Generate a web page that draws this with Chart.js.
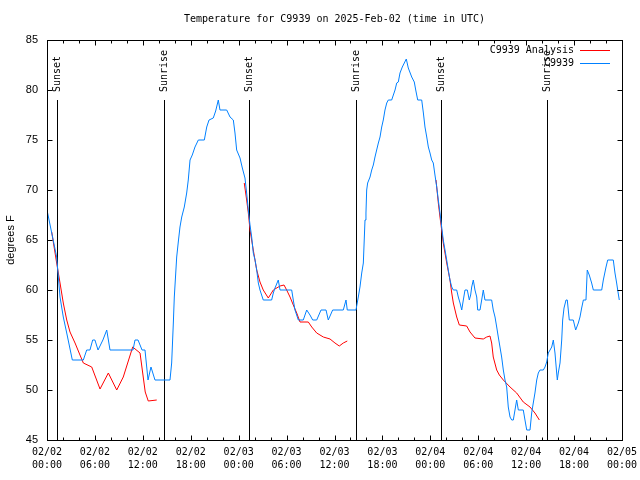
<!DOCTYPE html>
<html>
<head>
<meta charset="utf-8">
<script src="https://cdn.jsdelivr.net/npm/chart.js@4.4.1/dist/chart.umd.min.js"></script>
<style>
  html, body { margin: 0; padding: 0; background: #fff; }
  canvas { display: block; }
</style>
</head>
<body>
<canvas id="tempChart" width="640" height="480"></canvas>
<script>
// hours since 2025-02-02 00:00 UTC
const obsHours = [0, 1.21, 1.63, 2.04, 2.47, 3.17, 4.55, 4.97, 5.38, 5.72, 6.0, 6.39, 7.0, 7.48, 7.89, 10.77, 11.02, 11.4, 11.9, 12.27,
    12.65, 13.02, 13.52, 15.4, 15.61, 15.82, 15.94, 16.12, 16.24, 16.44, 16.65, 16.87, 17.19, 17.49, 17.69, 17.91, 18.19, 18.53, 18.95, 19.7,
    20.0, 20.29, 20.82, 21.12, 21.45, 21.66, 22.5, 22.92, 23.33, 23.54, 23.75, 24.17, 24.46, 24.79, 25.0, 25.21, 25.42, 25.63, 25.83, 26.05,
    26.26, 26.46, 26.67, 27.08, 28.13, 28.34, 28.55, 28.96, 29.18, 30.64, 30.84, 31.05, 31.47, 32.09, 32.52, 32.93, 33.27, 33.77, 34.31, 34.94,
    35.22, 35.77, 37.1, 37.44, 37.6, 38.69, 38.98, 39.19, 39.41, 39.61, 39.82, 39.94, 40.03, 40.15, 40.45, 40.66, 40.86, 41.07, 41.28, 41.49,
    41.7, 41.91, 42.11, 42.32, 42.54, 42.74, 43.16, 43.37, 43.58, 43.79, 43.99, 44.2, 44.49, 44.74, 44.99, 45.24, 45.67, 45.99, 46.17, 46.42,
    46.92, 47.13, 47.33, 47.55, 47.75, 47.96, 48.17, 48.37, 48.58, 48.8, 49.0, 49.21, 49.42, 49.62, 49.84, 50.05, 50.25, 50.46, 50.68, 50.88,
    51.3, 51.5, 51.72, 51.93, 52.13, 52.34, 52.63, 52.88, 53.05, 53.18, 53.38, 53.59, 53.81, 53.93, 54.22, 54.43, 54.63, 54.84, 55.68, 55.88,
    56.1, 56.31, 56.51, 56.72, 56.93, 57.14, 57.35, 57.56, 57.76, 57.98, 58.19, 58.39, 58.6, 58.81, 59.02, 59.64, 59.85, 60.07, 60.48, 60.69,
    60.89, 61.1, 61.32, 61.52, 61.73, 62.15, 62.36, 62.57, 62.77, 62.99, 63.2, 63.4, 63.61, 63.82, 63.9, 64.02, 64.24, 64.45, 64.57, 64.74,
    64.99, 65.15, 65.4, 65.9, 66.2, 66.53, 66.74, 66.95, 67.16, 67.49, 67.65, 67.9, 68.2, 68.41, 69.46, 69.66, 70.0, 70.21, 70.91, 71.12,
    71.33, 71.46, 71.66];
const obsTemps = [68, 63.3, 59.3, 57.3, 55.7, 53, 53, 54, 54, 55, 55, 54, 55, 56, 54, 54, 55, 55, 54, 54,
    51, 52.3, 51, 51, 52.7, 56.7, 59.3, 61.7, 63.3, 64.8, 66.3, 67.3, 68.3, 69.7, 71, 73, 73.5, 74.3, 75, 75,
    76.3, 77, 77.2, 77.9, 79, 78, 78, 77.3, 77, 75.7, 74, 73.2, 72.2, 71.2, 69.7, 68, 66.5, 65.3, 63.7, 63,
    62, 60.7, 60, 59, 59, 59.7, 60.2, 61, 60, 60, 59, 58, 57, 57, 58, 57.5, 57, 57, 58, 58,
    57, 58, 58, 59, 58, 58, 59.3, 60.3, 61.7, 62.7, 67, 67.7, 70, 70.7, 71.3, 72, 72.5, 73.3, 74, 74.7,
    75.3, 76.3, 77, 78, 78.7, 79, 79, 79.5, 80, 80.7, 80.8, 81.7, 82.3, 82.7, 83.1, 82.2, 81.3, 80.8, 80, 79,
    79, 77.7, 76.3, 75.3, 74.3, 73.7, 73, 72.7, 71.5, 70.3, 69, 67.7, 66.3, 65, 64, 63, 62, 61, 60.3, 60,
    60, 59.3, 58.7, 58, 59, 60, 60, 59, 59.5, 60.3, 61, 60, 59.3, 58, 58, 59, 60, 59, 59, 58,
    57.3, 56.3, 55.3, 54.3, 53.3, 52, 51, 50.3, 48.3, 47.3, 47, 47, 48, 49, 48, 48, 47, 46, 46, 47.7,
    48.7, 49.7, 51, 51.7, 52, 52, 52.3, 52.8, 53.7, 54, 54.3, 55, 53.7, 51.7, 51, 51.7, 52.7, 55, 57, 58.2,
    59, 59, 57, 57, 56, 56.7, 57.3, 58.2, 59, 59, 62, 61.5, 60.7, 60, 60, 61, 62.3, 63, 63, 61.7,
    60.7, 60, 59];

const anaHours = [0.59, 1.21, 1.63, 2.04, 2.47, 2.88, 3.51, 4.13, 4.55, 5.6, 6.64, 7.68, 8.73, 9.55, 10.73, 11.65, 12.3, 12.68, 13.74,
    19,
    24.7, 25.0, 25.21, 25.42, 25.83, 26.26, 26.67, 27.08, 27.71, 28.34, 29.18, 29.68, 30.01, 30.43, 30.84, 31.27, 31.68, 32.72, 33.15, 33.77,
    34.6, 35.44, 36.06, 36.6, 37.1, 37.6,
    43,
    48.71, 49.0, 49.21, 49.42, 49.62, 50.05, 50.46, 50.68, 50.88, 51.09, 51.3, 51.63, 52.55, 52.97, 53.59, 54.63, 55.06, 55.47, 55.68, 55.88,
    56.31, 56.64, 57.14, 57.98, 58.81, 59.64, 60.48, 61.1, 61.65];
const anaTemps = [65.8, 62.7, 60.7, 58.7, 57, 55.8, 54.7, 53.5, 52.7, 52.3, 50.1, 51.7, 50, 51.3, 54.3, 53.7, 49.8, 48.9, 49,
    null,
    70.7, 69, 67.7, 66, 64, 62, 60.8, 60, 59.2, 60, 60.4, 60.5, 60, 59.3, 58.5, 57.7, 56.8, 56.8, 56.3, 55.7,
    55.3, 55.1, 54.7, 54.4, 54.7, 54.9,
    null,
    71, 68.7, 67.3, 66, 64.7, 62.7, 61, 59.7, 58.7, 58, 57.3, 56.5, 56.4, 55.8, 55.2, 55.1, 55.3, 55.4, 54.7, 53.3,
    52, 51.5, 51, 50.3, 49.7, 48.8, 48.3, 47.7, 47];

const sunHours = [1.2, 14.69, 25.25, 38.65, 49.3, 62.6];
const sunLabels = ['Sunset', 'Sunrise', 'Sunset', 'Sunrise', 'Sunset', 'Sunrise'];

const dayLabels = ['02/02', '02/03', '02/04', '02/05'];
const yTicks = [45, 50, 55, 60, 65, 70, 75, 80, 85];

const monoFont = "'DejaVu Sans Mono', monospace";
const sansFont = "'Liberation Sans', Arial, sans-serif";

function toPoints(xs, ys) {
    var pts = [];
    for (var i = 0; i < xs.length; i++) {
        pts.push({ x: xs[i], y: ys[i] });
    }
    return pts;
}

function pad2(n) {
    return (n < 10 ? '0' : '') + n;
}

const gnuplotLook = {
    id: 'gnuplotLook',
    beforeDatasetsDraw(chart) {
        const ctx = chart.ctx;
        const area = chart.chartArea;
        const xs = chart.scales.x;
        ctx.save();
        ctx.strokeStyle = '#000';
        ctx.lineWidth = 1;
        ctx.fillStyle = '#000';
        ctx.font = '10px ' + monoFont;
        for (var i = 0; i < sunHours.length; i++) {
            const px = Math.round(xs.getPixelForValue(sunHours[i])) + 0.5;
            ctx.beginPath();
            ctx.moveTo(px, 100);
            ctx.lineTo(px, area.bottom);
            ctx.stroke();
            ctx.save();
            ctx.translate(px, 92);
            ctx.rotate(-Math.PI / 2);
            ctx.textAlign = 'left';
            ctx.textBaseline = 'middle';
            ctx.fillText(sunLabels[i], 0, 0);
            ctx.restore();
        }
        ctx.restore();
    },
    afterDraw(chart) {
        const ctx = chart.ctx;
        const area = chart.chartArea;
        const xs = chart.scales.x;
        const ys = chart.scales.y;
        const l = Math.round(area.left) + 0.5;
        const r = Math.round(area.right) + 0.5;
        const t = Math.round(area.top) + 0.5;
        const b = Math.round(area.bottom) + 0.5;
        ctx.save();
        ctx.strokeStyle = '#000';
        ctx.lineWidth = 1;
        ctx.strokeRect(l, t, r - l, b - t);
        ctx.beginPath();
        // y ticks, both sides
        yTicks.forEach(function (v) {
            const py = Math.round(ys.getPixelForValue(v)) + 0.5;
            ctx.moveTo(l, py); ctx.lineTo(l + 5, py);
            ctx.moveTo(r, py); ctx.lineTo(r - 5, py);
        });
        // x ticks: major every 6h, minor every 2h
        for (var h = 0; h <= 72; h += 2) {
            const px = Math.round(xs.getPixelForValue(h)) + 0.5;
            const len = h % 6 === 0 ? 5 : 3;
            ctx.moveTo(px, b); ctx.lineTo(px, b - len);
            ctx.moveTo(px, t); ctx.lineTo(px, t + len);
        }
        ctx.stroke();

        // legend, gnuplot style
        ctx.font = '10px ' + monoFont;
        ctx.textAlign = 'right';
        ctx.textBaseline = 'middle';
        ctx.fillStyle = '#000';
        chart.data.datasets.forEach(function (ds, i) {
            const y = 50 + i * 13 + 0.5;
            ctx.fillText(ds.label, 574, y);
            ctx.strokeStyle = ds.borderColor;
            ctx.beginPath();
            ctx.moveTo(580, y);
            ctx.lineTo(610, y);
            ctx.stroke();
        });
        ctx.restore();
    }
};

new Chart(document.getElementById('tempChart'), {
    type: 'line',
    data: {
        datasets: [{
            label: 'C9939 Analysis',
            data: toPoints(anaHours, anaTemps),
            borderColor: 'rgb(255,0,0)',
            borderWidth: 1,
            pointRadius: 0,
            spanGaps: false,
            tension: 0,
            order: 2
        }, {
            label: 'C9939',
            data: toPoints(obsHours, obsTemps),
            borderColor: 'rgb(0,128,255)',
            borderWidth: 1,
            pointRadius: 0,
            tension: 0,
            order: 1
        }]
    },
    options: {
        responsive: false,
        animation: false,
        devicePixelRatio: 1,
        layout: { padding: { left: 0, right: 18, top: 0, bottom: 0 } },
        plugins: {
            legend: { display: false },
            tooltip: { enabled: false },
            title: {
                display: true,
                text: 'Temperature for C9939 on 2025-Feb-02 (time in UTC)',
                fullSize: false,
                color: '#000',
                font: { family: monoFont, size: 10, weight: 'normal', lineHeight: 1.2 },
                padding: { top: 13, bottom: 15 }
            }
        },
        scales: {
            x: {
                type: 'linear',
                min: 0,
                max: 72,
                grid: { display: false, drawTicks: false },
                border: { display: false },
                ticks: {
                    stepSize: 6,
                    autoSkip: false,
                    maxRotation: 0,
                    padding: 6,
                    color: '#000',
                    font: { family: monoFont, size: 10, lineHeight: 1.3 },
                    callback: function (value) {
                        const d = Math.floor(value / 24);
                        return [dayLabels[d], pad2(value % 24) + ':00'];
                    }
                },
                afterFit: function (scale) {
                    scale.height = 40;
                    scale.paddingLeft = 0;
                    scale.paddingRight = 0;
                }
            },
            y: {
                min: 45,
                max: 85,
                grid: { display: false, drawTicks: false },
                border: { display: false },
                ticks: {
                    stepSize: 5,
                    padding: 9,
                    color: '#000',
                    font: { family: sansFont, size: 11 }
                },
                title: {
                    display: true,
                    text: 'degrees F',
                    color: '#000',
                    font: { family: sansFont, size: 11 },
                    padding: { top: 4, bottom: 0 }
                },
                afterFit: function (scale) { scale.width = 47; }
            }
        }
    },
    plugins: [gnuplotLook]
});
</script>
</body>
</html>
